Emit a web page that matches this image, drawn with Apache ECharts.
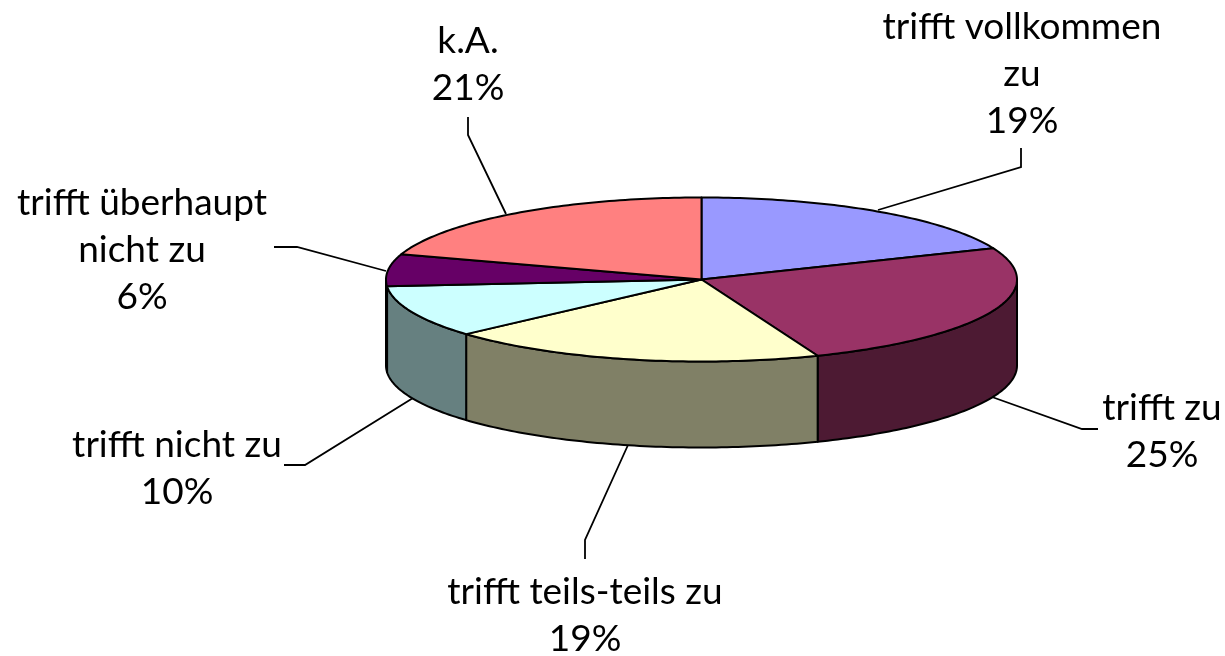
<!DOCTYPE html>
<html><head><meta charset="utf-8">
<style>html,body{margin:0;padding:0;background:#fff}#c{width:1225px;height:656px}</style>
<script src="https://cdn.jsdelivr.net/npm/echarts@6/dist/echarts.min.js"></script></head>
<body><div id="c"></div>
<script>
const categories = ['trifft vollkommen\nzu','trifft zu','trifft teils-teils zu','trifft nicht zu','trifft überhaupt\nnicht zu','k.A.'];
// percentages as printed on the labels
const printedPercent = [19,25,19,10,6,21];
// slice shares
const sliceShares = [18.8,25.2,19.4,10.3,6.3,20.0];
const topColors = ['#9999FF','#993366','#FFFFCC','#CCFFFF','#660066','#FF8080'];
const wallColors = ['#4D4D80','#4D1A33','#808066','#668080','#330033','#804040'];
// label layout: text centre x, centre y of first line
const labelPos = [[1022,27],[1162,408],[585,592],[177,445],[142,203],[468,41]];
const leaderPaths = [
 [[878,210],[1021,167],[1021,148]],
 [[992,397],[1082,429],[1098,429]],
 [[628,445],[585,540],[585,559]],
 [[413,398],[305,465],[284,465]],
 [[386,271],[297,247],[274,247]],
 [[506,214],[468,135],[468,117]]
];
const CX=701.5, CY=279.5, RX=315.5, RY=82, DEPTH=86, LH=47, FS=37;
const total = sliceShares.reduce((a,b)=>a+b,0);
const rad = d => d*Math.PI/180;
const pt = (deg,dy=0) => [CX+RX*Math.sin(rad(deg)), CY-RY*Math.cos(rad(deg))+dy];
function arc(a,b,dy=0){const n=Math.max(2,Math.ceil(Math.abs(b-a)));const p=[];for(let i=0;i<=n;i++)p.push(pt(a+(b-a)*i/n,dy));return p;}
function range(i){let s=0;for(let k=0;k<i;k++)s+=sliceShares[k];return [s/total*360,(s+sliceShares[i])/total*360];}
const lineStyle={stroke:'#000',lineWidth:1.8,fill:null};
const itemData=sliceShares.map((v,i)=>[v,i,printedPercent[i]]);
const chart=echarts.init(document.getElementById('c'),null,{renderer:'canvas'});
chart.setOption({
 animation:false,
 series:[
 {type:'custom',coordinateSystem:'none',silent:true,data:itemData,
  renderItem:(p,api)=>{const i=api.value(1);
   return {type:'polyline',shape:{points:leaderPaths[i]},style:lineStyle};}},
 {type:'custom',coordinateSystem:'none',silent:true,data:itemData,
  renderItem:(p,api)=>{const i=api.value(1);const [a,b]=range(i);
   const s=Math.max(a,90),e=Math.min(b,270);
   if(e<=s)return {type:'group',children:[]};
   const pts=arc(s,e).concat(arc(e,s,DEPTH));
   return {type:'polygon',shape:{points:pts},style:{fill:wallColors[i],stroke:'#000',lineWidth:2,lineJoin:'round'}};}},
 {type:'custom',coordinateSystem:'none',silent:true,data:itemData,
  renderItem:(p,api)=>{const i=api.value(1);const [a,b]=range(i);
   const pts=[[CX,CY]].concat(arc(a,b));
   return {type:'polygon',shape:{points:pts},style:{fill:topColors[i],stroke:'#000',lineWidth:2,lineJoin:'round'}};}},
 {type:'custom',coordinateSystem:'none',silent:true,data:itemData,
  renderItem:(p,api)=>{const i=api.value(1);
   return {type:'text',style:{text:categories[i]+'\n'+api.value(2)+'%',x:labelPos[i][0],y:labelPos[i][1]-LH/2,
    align:'center',verticalAlign:'top',fontFamily:'Lato',fontSize:FS,lineHeight:LH,fill:'#000'}};}}
 ]
});
</script></body></html>
